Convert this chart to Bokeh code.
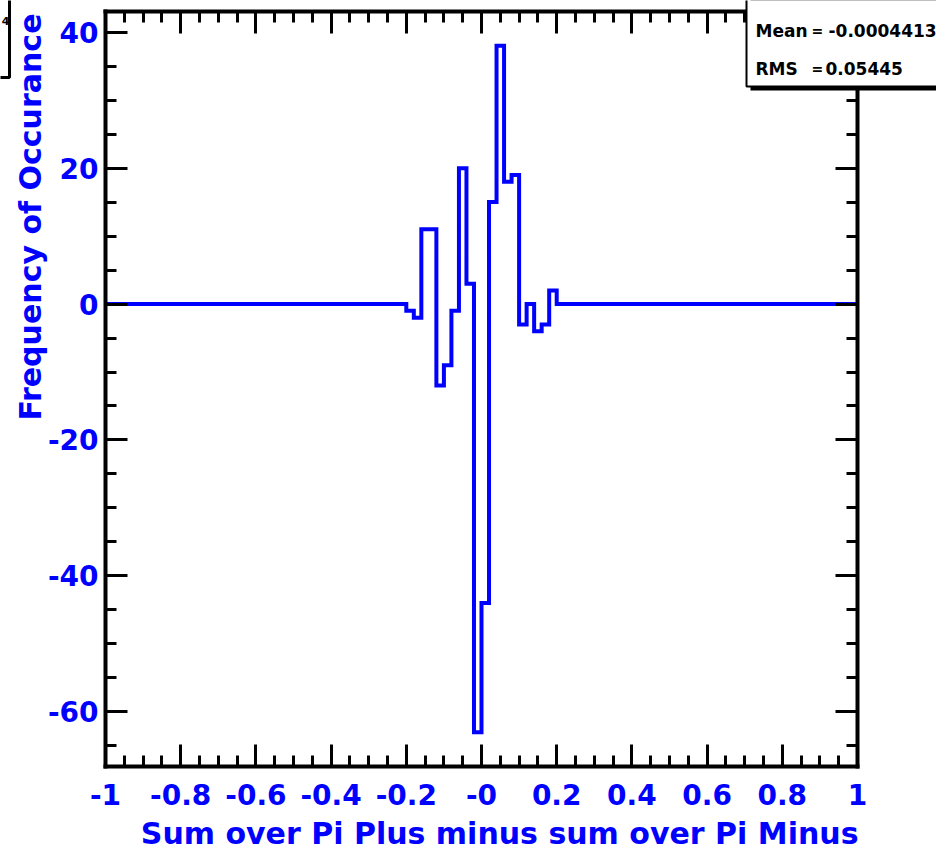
import math
import numpy as np
from bokeh.plotting import figure
from bokeh.models import Range1d, FixedTicker, LinearAxis, Label, BoxAnnotation
from bokeh.embed import file_html
from bokeh.resources import INLINE

# Histogram binning: 100 bins on [-1, 1]
x_lo, x_hi, n_bins = -1.0, 1.0, 100

# Bin contents (left to right)
counts = ([0] * 40 +
          [-1, -2, 11, 11, -12, -9, -1, 20, 3, -63,
           -44, 15, 38, 18, 19, -3, 0, -4, -3, 2] +
          [0] * 40)

# Axis ticks and labels
x_ticks = [-1.0, -0.8, -0.6, -0.4, -0.2, 0.0, 0.2, 0.4, 0.6, 0.8, 1.0]
x_tick_labels = ["-1", "-0.8", "-0.6", "-0.4", "-0.2", "-0", "0.2", "0.4", "0.6", "0.8", "1"]
y_ticks = [-60, -40, -20, 0, 20, 40]
y_tick_labels = ["-60", "-40", "-20", "0", "20", "40"]

# Statistics box
stat_names = ["Mean", "RMS"]
stat_values = ["-0.0004413", "0.05445"]

x_title = "Sum over Pi Plus minus sum over Pi Minus"
y_title = "Frequency of Occurance"

# Page and histogram-frame geometry (pixels)
W, H = 936, 852
F_LEFT, F_TOP, FW, FH = 105, 11, 752, 755

y_lo, y_hi = -68.05, 43.05

BLUE = "#0000ff"
FONT = "DejaVu Sans"


def sx(px):
    """Canvas pixel column -> data x."""
    return x_lo + (px - F_LEFT) / FW * (x_hi - x_lo)


def sy(py):
    """Canvas pixel row -> data y."""
    return y_hi - (py - F_TOP) / FH * (y_hi - y_lo)


# The plotting area spans the whole page; the histogram frame is drawn by
# four axes pinned to the edges of the [-1, 1] x [y_lo, y_hi] box.
p = figure(width=W, height=H, min_border=0,
           x_range=Range1d(sx(0), sx(W)), y_range=Range1d(sy(H), sy(0)),
           output_backend="svg", toolbar_location=None,
           x_axis_location=None, y_axis_location=None)
p.grid.visible = False
p.outline_line_color = None
p.background_fill_color = "white"
p.border_fill_color = "white"

# Histogram outline
edges = np.linspace(x_lo, x_hi, n_bins + 1)
step_y = list(counts) + [counts[-1]]
p.step(x=edges, y=step_y, mode="after", line_color=BLUE, line_width=4,
       line_join="miter")

x_minor = [round(v, 3) for v in np.arange(-1.0, 1.0001, 0.05)]
y_minor = list(range(-65, 45, 5))


def style_axis(ax, show_labels):
    ax.axis_line_width = 4
    ax.axis_line_color = "black"
    ax.axis_line_cap = "square"
    ax.major_tick_in = 22
    ax.major_tick_out = 0
    ax.minor_tick_in = 11
    ax.minor_tick_out = 0
    ax.major_tick_line_width = 3
    ax.minor_tick_line_width = 3
    ax.major_tick_line_color = "black"
    ax.minor_tick_line_color = "black"
    if show_labels:
        ax.major_label_text_font = FONT
        ax.major_label_text_font_style = "bold"
        ax.major_label_text_font_size = "28px"
        ax.major_label_text_color = BLUE
    else:
        ax.major_label_text_color = None
        ax.major_label_text_alpha = 0
        ax.major_label_standoff = 0


xb = LinearAxis(ticker=FixedTicker(ticks=x_ticks, minor_ticks=x_minor),
                major_label_overrides=dict(zip(x_ticks, x_tick_labels)),
                fixed_location=y_lo, bounds=(x_lo, x_hi))
style_axis(xb, True)
xb.major_label_standoff = 17
p.add_layout(xb, "below")

xt = LinearAxis(ticker=FixedTicker(ticks=x_ticks, minor_ticks=x_minor),
                fixed_location=y_hi, bounds=(x_lo, x_hi))
style_axis(xt, False)
p.add_layout(xt, "above")

yl = LinearAxis(ticker=FixedTicker(ticks=y_ticks, minor_ticks=y_minor),
                major_label_overrides=dict(zip(y_ticks, y_tick_labels)),
                fixed_location=x_lo, bounds=(y_lo, y_hi))
style_axis(yl, True)
yl.major_label_standoff = 7
p.add_layout(yl, "left")

yr = LinearAxis(ticker=FixedTicker(ticks=y_ticks, minor_ticks=y_minor),
                fixed_location=x_hi, bounds=(y_lo, y_hi))
style_axis(yr, False)
p.add_layout(yr, "right")

# Axis titles, aligned to the far end of each axis
p.add_layout(Label(x=sx(858), y=sy(833), text=x_title, text_align="right",
                   text_baseline="middle", text_font=FONT, text_font_style="bold",
                   text_font_size="30px", text_color=BLUE))
p.add_layout(Label(x=sx(30), y=sy(13), text=y_title, angle=math.pi / 2,
                   text_align="right", text_baseline="middle", text_font=FONT,
                   text_font_style="bold", text_font_size="30px", text_color=BLUE))

# Title box fragment at the top-left corner
p.add_layout(BoxAnnotation(left=sx(-60), right=sx(9), top=sy(-20), bottom=sy(77),
                           fill_color="white", fill_alpha=1.0,
                           line_color="black", line_alpha=1.0, line_width=3))
p.add_layout(Label(x=sx(5), y=sy(20), text="4", text_align="center",
                   text_baseline="middle", text_font=FONT, text_font_style="bold",
                   text_font_size="11px", text_color="black"))

# Statistics box with drop shadow
p.add_layout(BoxAnnotation(left=sx(750), right=sx(1000), top=sy(-30), bottom=sy(90),
                           fill_color="black", fill_alpha=1.0, line_color=None))
p.add_layout(BoxAnnotation(left=sx(746), right=sx(990), top=sy(-30), bottom=sy(86),
                           fill_color="white", fill_alpha=1.0,
                           line_color="black", line_alpha=1.0, line_width=2))
stat_rows = [(30, 828), (68, 825)]
for (row_y, val_x), name, val in zip(stat_rows, stat_names, stat_values):
    p.add_layout(Label(x=sx(755), y=sy(row_y), text=name, text_align="left",
                       text_baseline="middle", text_font=FONT,
                       text_font_style="bold", text_font_size="17px",
                       text_color="black"))
    p.add_layout(Label(x=sx(811), y=sy(row_y), text="=", text_align="left",
                       text_baseline="middle", text_font=FONT,
                       text_font_style="bold", text_font_size="14px",
                       text_color="black"))
    p.add_layout(Label(x=sx(val_x), y=sy(row_y), text=val, text_align="left",
                       text_baseline="middle", text_font=FONT,
                       text_font_style="bold", text_font_size="17px",
                       text_color="black"))

open("out.html", "w").write(file_html(p, INLINE))
